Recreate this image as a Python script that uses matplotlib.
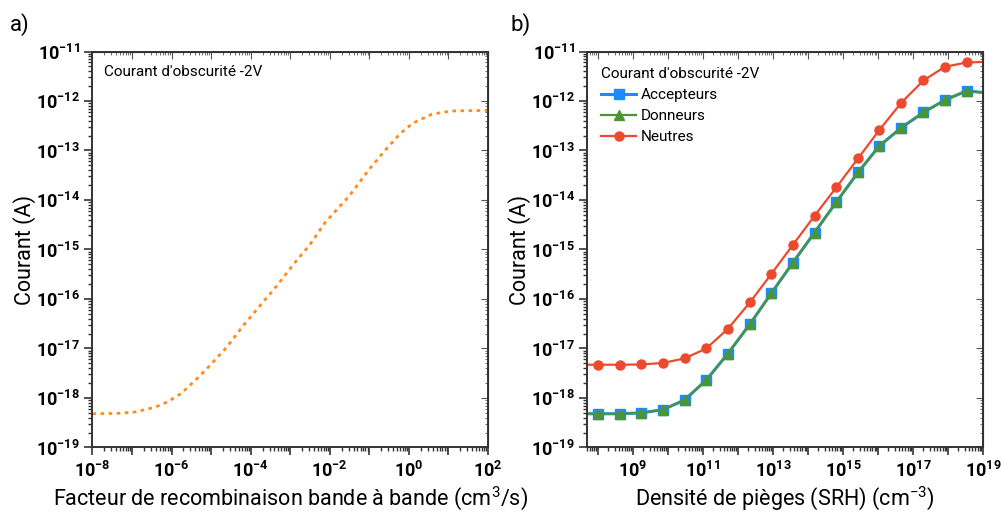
import numpy as np
import matplotlib.pyplot as plt
from matplotlib.ticker import FuncFormatter, NullFormatter

# panel a) : band to band recombination factor sweep
bb_x = [1e-8, 4.5e-8, 1.17e-7, 3.8e-7, 8.3e-7, 1.8e-6, 3.9e-6, 8.5e-6, 2.45e-5,
        6.5e-5, 1.74e-4, 4.6e-4, 1.2e-3, 3.16e-3, 7.6e-3, 2.95e-2, 0.105, 0.275,
        0.6, 1.29, 3.8, 12.0, 100.0]
bb_I = [4.8e-19, 4.9e-19, 5.2e-19, 6.5e-19, 8.5e-19, 1.26e-18, 2.24e-18, 4.2e-18,
        1.05e-17, 2.9e-17, 7.4e-17, 1.86e-16, 5.0e-16, 1.26e-15, 3.5e-15, 1.15e-14,
        4.4e-14, 1.1e-13, 2.2e-13, 3.6e-13, 5.4e-13, 6.3e-13, 6.45e-13]

# panel b) : SRH trap density sweep (first/last points lie outside the axes)
srh_N = [2.4e7, 1e8, 4.2e8, 1.7e9, 7.2e9, 3.0e10, 1.25e11, 5.2e11, 2.2e12, 9.0e12,
         3.7e13, 1.55e14, 6.5e14, 2.7e15, 1.1e16, 4.7e16, 2.0e17, 8.1e17, 3.4e18,
         1.4e19]
I_acc = [4.8e-19, 4.8e-19, 4.8e-19, 5.0e-19, 5.8e-19, 9.1e-19, 2.3e-18, 7.9e-18,
         3.1e-17, 1.3e-16, 5.4e-16, 2.2e-15, 9.1e-15, 3.6e-14, 1.24e-13, 2.9e-13,
         5.9e-13, 1.04e-12, 1.6e-12, 1.45e-12]
I_don = I_acc
I_neu = [4.7e-18, 4.7e-18, 4.7e-18, 4.75e-18, 5.1e-18, 6.3e-18, 1.0e-17, 2.5e-17,
         8.5e-17, 3.2e-16, 1.23e-15, 4.8e-15, 1.8e-14, 6.9e-14, 2.6e-13, 9.3e-13,
         2.6e-12, 4.9e-12, 6.0e-12, 6.2e-12]

plt.rcParams['font.family'] = ['Roboto', 'DejaVu Sans']
plt.rcParams['mathtext.fontset'] = 'custom'
plt.rcParams['mathtext.rm'] = 'Roboto'
plt.rcParams['mathtext.bf'] = 'Roboto:bold'
plt.rcParams['mathtext.it'] = 'Roboto:italic'
plt.rcParams['axes.unicode_minus'] = False

fig = plt.figure(figsize=(10.02, 5.14), dpi=100)
ax1 = fig.add_axes([0.0923, 0.1294, 0.3947, 0.7704])
ax2 = fig.add_axes([0.5861, 0.1294, 0.3949, 0.7704])


def pow_label(every, offset):
    def f(v, pos):
        e = int(round(np.log10(v)))
        if (e - offset) % every:
            return ''
        return r'$\mathbf{10^{%d}}$' % e
    return FuncFormatter(f)


def log_ticks(lo, hi):
    # decade and sub-decade ticks that lie inside [lo, hi]
    e0, e1 = int(np.floor(np.log10(lo))), int(np.ceil(np.log10(hi)))
    major = [10.0 ** e for e in range(e0, e1 + 1) if lo * 0.999 <= 10.0 ** e <= hi * 1.001]
    minor = [m * 10.0 ** e for e in range(e0, e1 + 1) for m in range(2, 10)
             if lo <= m * 10.0 ** e <= hi]
    return major, minor


def hide_texts(sec):
    for t in (sec.title, sec._left_title, sec._right_title,
              sec.xaxis.label, sec.yaxis.label,
              sec.xaxis.offsetText, sec.yaxis.offsetText):
        t.set_visible(False)


def style(ax, xlabel, xoff, xlim):
    ax.set_xscale('log')
    ax.set_yscale('log')
    ax.set_xlim(*xlim)
    ax.set_ylim(1e-19, 1e-11)
    xmaj, xmin = log_ticks(*xlim)
    ymaj, ymin = log_ticks(1e-19, 1e-11)
    ax.set_xticks(xmaj)
    ax.set_xticks(xmin, minor=True)
    ax.set_yticks(ymaj)
    ax.set_yticks(ymin, minor=True)
    ax.xaxis.set_major_formatter(pow_label(2, xoff))
    ax.yaxis.set_major_formatter(pow_label(1, 0))
    ax.xaxis.set_minor_formatter(NullFormatter())
    ax.yaxis.set_minor_formatter(NullFormatter())
    ax.tick_params(which='both', direction='out', top=False, right=False,
                   color='#333333', labelsize=13)
    ax.tick_params(which='major', length=6, width=1.2)
    ax.tick_params(which='minor', length=3, width=1.0)
    ax.tick_params(axis='x', pad=4)
    ax.tick_params(axis='y', pad=3)
    for s in ax.spines.values():
        s.set_color('#333333')
        s.set_linewidth(1.4)
    ax.set_xlabel(xlabel, fontsize=15.5, labelpad=2)
    ax.set_ylabel('Courant (A)', fontsize=15.5, labelpad=0)
    # inner ticks on top / right
    sx = ax.secondary_xaxis('top')
    sx.tick_params(which='both', direction='in', labeltop=False, color='#555555')
    sx.tick_params(which='major', length=5)
    sx.tick_params(which='minor', length=2.5)
    sx.set_xticks(xmaj)
    sx.set_xticks(xmin, minor=True)
    sx.xaxis.set_major_formatter(NullFormatter())
    sx.xaxis.set_minor_formatter(NullFormatter())
    hide_texts(sx)
    sy = ax.secondary_yaxis('right')
    sy.tick_params(which='both', direction='in', labelright=False, color='#555555')
    sy.tick_params(which='major', length=5)
    sy.tick_params(which='minor', length=2.5)
    sy.set_yticks(ymaj)
    sy.set_yticks(ymin, minor=True)
    sy.yaxis.set_major_formatter(NullFormatter())
    sy.yaxis.set_minor_formatter(NullFormatter())
    hide_texts(sy)


# panel a
ax1.plot(bb_x, bb_I, color='#ff8c1a', lw=2.0, ls=(0, (1.3, 1.6)))
style(ax1, 'Facteur de recombinaison bande à bande (cm$^3$/s)', -8, (1e-8, 1e2))
ax1.text(0.03, 0.965, "Courant d'obscurité -2V", transform=ax1.transAxes,
         fontsize=11, va='top', ha='left')

# panel b
mk = slice(1, -1)
ax2.plot(srh_N, I_acc, color='#1a8cff', lw=2.2, marker='s', ms=7.5,
         markevery=mk, label='Accepteurs')
ax2.plot(srh_N, I_don, color='#4a9636', lw=1.6, marker='^', ms=7.5,
         markevery=mk, label='Donneurs')
ax2.plot(srh_N, I_neu, color='#ec4a2e', lw=1.6, marker='o', ms=6.5,
         markevery=mk, label='Neutres')
style(ax2, 'Densité de pièges (SRH) (cm$^{-3}$)', 9, (5e7, 1e19))
leg = ax2.legend(title="Courant d'obscurité -2V", loc='upper left',
                 bbox_to_anchor=(0.0, 0.995), frameon=False, fontsize=11,
                 title_fontsize=11, handlelength=2.3, handletextpad=0.3,
                 labelspacing=0.45, borderaxespad=0.5)
leg._legend_box.align = 'left'

fig.text(0.010, 0.952, 'a)', fontsize=16, ha='left', va='center')
fig.text(0.509, 0.952, 'b)', fontsize=16, ha='left', va='center')

fig.savefig('out.png', dpi=100)
